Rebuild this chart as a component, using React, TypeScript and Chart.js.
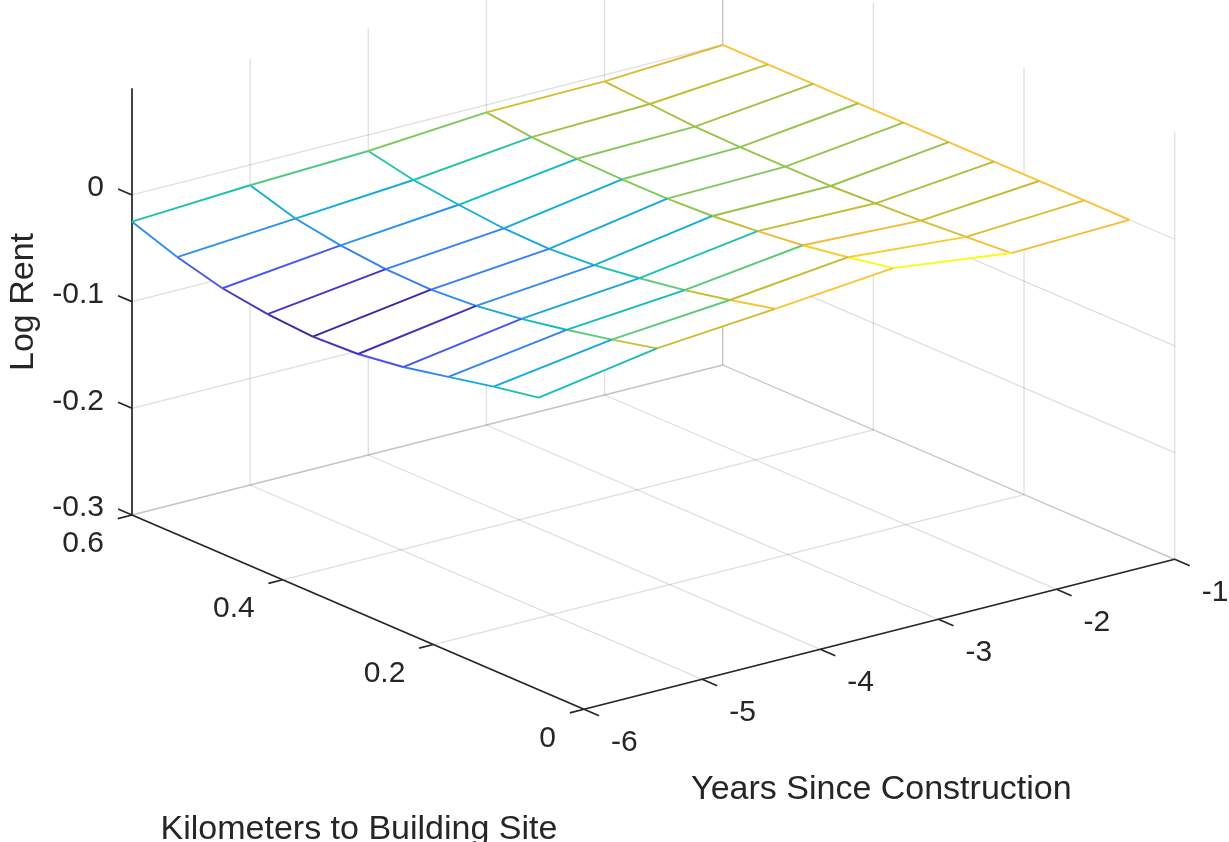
import { useEffect, useRef } from "react";
import { Chart, registerables, type ChartConfiguration, type Plugin } from "chart.js";

Chart.register(...registerables);

const W = 1229;
const H = 842;

// grid of the mesh
const years = [-6, -5, -4, -3, -2, -1];
const kmToSite = [0.06, 0.12, 0.18, 0.24, 0.3, 0.36, 0.42, 0.48, 0.54, 0.6];

// log rent per year, one value per kmToSite entry
const rentYearM6 = [-0.026, -0.034, -0.043, -0.052, -0.058, -0.06, -0.057, -0.051, -0.04, -0.025];
const rentYearM5 = [-0.008, -0.018, -0.027, -0.035, -0.041, -0.044, -0.043, -0.039, -0.032, -0.019];
const rentYearM4 = [0.001, -0.009, -0.018, -0.025, -0.031, -0.034, -0.033, -0.029, -0.024, -0.015];
const rentYearM3 = [0.011, 0.003, -0.004, -0.009, -0.013, -0.015, -0.015, -0.014, -0.012, -0.007];
const rentYearM2 = [-0.003, -0.006, -0.009, -0.011, -0.013, -0.013, -0.013, -0.012, -0.009, -0.006];
const rentYearM1 = [0, 0, 0, 0, 0, 0, 0, 0, 0, 0];
const logRent = [rentYearM6, rentYearM5, rentYearM4, rentYearM3, rentYearM2, rentYearM1];

// axes
const yearLim = [-6, -1];
const kmLim = [0, 0.6];
const zLim = [-0.3, 0.1];
const yearTicks = [-6, -5, -4, -3, -2, -1];
const yearTickLabels = ["-6", "-5", "-4", "-3", "-2", "-1"];
const kmTicks = [0, 0.2, 0.4, 0.6];
const kmTickLabels = ["0", "0.2", "0.4", "0.6"];
const zTicks = [-0.3, -0.2, -0.1, 0];
const zTickLabels = ["-0.3", "-0.2", "-0.1", "0"];

// where the plot box sits on screen: front-bottom corner plus one vector per axis
const ORIGIN = { x: 584, y: 709.3 };
const EDGE_YEAR = { x: 590.7, y: -150 };
const EDGE_KM = { x: -452, y: -194.3 };
const EDGE_Z = { x: 0, y: -426.7 };

type Pt = { x: number; y: number };

function project(yr: number, km: number, z: number): Pt {
  const p = (yr - yearLim[0]) / (yearLim[1] - yearLim[0]);
  const q = (km - kmLim[0]) / (kmLim[1] - kmLim[0]);
  const r = (z - zLim[0]) / (zLim[1] - zLim[0]);
  return {
    x: ORIGIN.x + p * EDGE_YEAR.x + q * EDGE_KM.x + r * EDGE_Z.x,
    y: ORIGIN.y + p * EDGE_YEAR.y + q * EDGE_KM.y + r * EDGE_Z.y,
  };
}

// matlab parula, sampled
const parulaStops: [number, number, number, number][] = [
  [0.0, 0.2422, 0.1504, 0.6603],
  [0.11, 0.281, 0.3228, 0.9579],
  [0.19, 0.244, 0.4358, 0.9988],
  [0.3, 0.154, 0.5902, 0.9218],
  [0.38, 0.069, 0.6727, 0.8634],
  [0.46, 0.059, 0.736, 0.754],
  [0.54, 0.2137, 0.786, 0.5887],
  [0.62, 0.4486, 0.8, 0.409],
  [0.7, 0.7184, 0.7436, 0.2005],
  [0.78, 0.93, 0.73, 0.21],
  [0.83, 0.9956, 0.7434, 0.2371],
  [0.87, 0.98, 0.78, 0.2],
  [0.92, 0.957, 0.85, 0.148],
  [0.96, 0.9575, 0.9064, 0.1171],
  [1.0, 0.9769, 0.9839, 0.0805],
];

function parula(t: number) {
  const v = Math.min(1, Math.max(0, t));
  let i = 0;
  while (i < parulaStops.length - 2 && v > parulaStops[i + 1][0]) i++;
  const a = parulaStops[i];
  const b = parulaStops[i + 1];
  const f = (v - a[0]) / (b[0] - a[0]);
  const c = [1, 2, 3].map((k) => Math.round(255 * (a[k] + (b[k] - a[k]) * f)));
  return `rgb(${c[0]},${c[1]},${c[2]})`;
}

const allZ = logRent.flat();
const cMin = Math.min(...allZ);
const cMax = Math.max(...allZ);
const colorOf = (z: number) => parula((z - cMin) / (cMax - cMin));

const GRID = "rgba(38,38,38,0.15)";
const AXIS = "#262626";
const FONT = '"Liberation Sans", Arial, Helvetica, sans-serif';

function lineSet(points: Pt[], color: string, width: number, extra: object = {}) {
  return {
    data: points,
    borderColor: color,
    borderWidth: width,
    pointRadius: 0,
    pointHoverRadius: 0,
    fill: false,
    tension: 0,
    ...extra,
  };
}

function buildDatasets() {
  const sets: any[] = [];
  const [y0, y1] = yearLim;
  const [k0, k1] = kmLim;
  const [z0, z1] = zLim;

  // grid lines on floor and the two back walls
  yearTicks.forEach((yr) => {
    sets.push(lineSet([project(yr, k0, z0), project(yr, k1, z0)], GRID, 1.3));
    sets.push(lineSet([project(yr, k1, z0), project(yr, k1, z1)], GRID, 1.3));
  });
  kmTicks.forEach((k) => {
    sets.push(lineSet([project(y0, k, z0), project(y1, k, z0)], GRID, 1.3));
    sets.push(lineSet([project(y1, k, z0), project(y1, k, z1)], GRID, 1.3));
  });
  zTicks.forEach((z) => {
    sets.push(lineSet([project(y0, k1, z), project(y1, k1, z)], GRID, 1.3));
    sets.push(lineSet([project(y1, k0, z), project(y1, k1, z)], GRID, 1.3));
  });

  // white faces hide what lies behind the mesh
  for (let i = 0; i < years.length - 1; i++) {
    for (let j = 0; j < kmToSite.length - 1; j++) {
      const quad = [
        project(years[i], kmToSite[j], logRent[i][j]),
        project(years[i + 1], kmToSite[j], logRent[i + 1][j]),
        project(years[i + 1], kmToSite[j + 1], logRent[i + 1][j + 1]),
        project(years[i], kmToSite[j + 1], logRent[i][j + 1]),
      ];
      quad.push(quad[0]);
      sets.push(lineSet(quad, "#ffffff", 1.2, { face: true, backgroundColor: "#ffffff" }));
    }
  }

  // axis lines and tick marks
  sets.push(lineSet([project(y0, k1, z0), project(y0, k1, z1)], AXIS, 1.7));
  sets.push(lineSet([project(y0, k1, z0), project(y0, k0, z0)], AXIS, 1.7));
  sets.push(lineSet([project(y0, k0, z0), project(y1, k0, z0)], AXIS, 1.7));
  zTicks.forEach((z) => {
    sets.push(lineSet([project(y0, k1, z), project(y0, k1 + 0.0185, z)], AXIS, 1.7));
  });
  kmTicks.forEach((k) => {
    sets.push(lineSet([project(y0, k, z0), project(y0 - 0.12, k, z0)], AXIS, 1.7));
  });
  yearTicks.forEach((yr) => {
    sets.push(lineSet([project(yr, k0, z0), project(yr, k0 - 0.02, z0)], AXIS, 1.7));
  });

  // mesh lines, each segment coloured from its first vertex
  years.forEach((yr, i) => {
    const pts = kmToSite.map((k, j) => project(yr, k, logRent[i][j]));
    const cols = kmToSite.map((_, j) => colorOf(logRent[i][j]));
    sets.push(
      lineSet(pts, cols[0], 1.9, {
        segment: { borderColor: (ctx: any) => cols[ctx.p0DataIndex] },
      })
    );
  });
  kmToSite.forEach((k, j) => {
    const pts = years.map((yr, i) => project(yr, k, logRent[i][j]));
    const cols = years.map((_, i) => colorOf(logRent[i][j]));
    sets.push(
      lineSet(pts, cols[0], 1.9, {
        segment: { borderColor: (ctx: any) => cols[ctx.p0DataIndex] },
      })
    );
  });

  // chart.js paints the first dataset on top, so hand them over back to front
  return sets.reverse();
}

// fills each face polygon right before its outline, so later lines sit on top
const faceFill: Plugin<"line"> = {
  id: "faceFill",
  beforeDatasetDraw(chart, args) {
    const ds: any = chart.data.datasets[args.index];
    if (!ds || !ds.face) return;
    const pts = args.meta.data as any[];
    if (!pts.length) return;
    const { ctx } = chart;
    ctx.save();
    ctx.beginPath();
    pts.forEach((p, i) => (i ? ctx.lineTo(p.x, p.y) : ctx.moveTo(p.x, p.y)));
    ctx.closePath();
    ctx.fillStyle = ds.backgroundColor;
    ctx.fill();
    ctx.restore();
  },
};

const axisText: Plugin<"line"> = {
  id: "axisText",
  afterDatasetsDraw(chart) {
    const { ctx } = chart;
    const sx = chart.scales.x;
    const sy = chart.scales.y;
    const at = (p: Pt) => ({ x: sx.getPixelForValue(p.x), y: sy.getPixelForValue(p.y) });
    const [y0, y1] = yearLim;
    const [k0, k1] = kmLim;
    const [z0] = zLim;

    ctx.save();
    ctx.fillStyle = AXIS;
    ctx.font = `30px ${FONT}`;
    ctx.textBaseline = "middle";

    ctx.textAlign = "right";
    zTicks.forEach((z, i) => {
      const a = at(project(y0, k1, z));
      ctx.fillText(zTickLabels[i], a.x - 28, a.y - 7);
    });
    kmTicks.forEach((k, i) => {
      const a = at(project(y0, k, z0));
      ctx.fillText(kmTickLabels[i], a.x - 28, a.y + 29);
    });
    ctx.textAlign = "left";
    yearTicks.forEach((yr, i) => {
      const a = at(project(yr, k0, z0));
      ctx.fillText(yearTickLabels[i], a.x + 27, a.y + 33);
    });

    ctx.font = `34px ${FONT}`;
    ctx.textAlign = "center";
    ctx.textBaseline = "alphabetic";
    const yMid = at(project((y0 + y1) / 2, k0, z0));
    ctx.fillText("Years Since Construction", yMid.x + 2, yMid.y + 165);
    const kMid = at(project(y0, (k0 + k1) / 2, z0));
    ctx.fillText("Kilometers to Building Site", kMid.x + 1, kMid.y + 227);

    const zMid = at(project(y0, k1, 0));
    ctx.translate(33, zMid.y + 107);
    ctx.rotate(-Math.PI / 2);
    ctx.fillText("Log Rent", 0, 0);
    ctx.restore();
  },
};

export default function App() {
  const canvasRef = useRef<HTMLCanvasElement | null>(null);

  useEffect(() => {
    const el = canvasRef.current;
    if (!el) return;

    const cfg: ChartConfiguration<"line"> = {
      type: "line",
      data: { datasets: buildDatasets() },
      options: {
        animation: false,
        responsive: false,
        events: [],
        layout: { padding: 0 },
        plugins: { legend: { display: false }, tooltip: { enabled: false } },
        scales: {
          x: { type: "linear", min: 0, max: W, display: false },
          y: { type: "linear", min: 0, max: H, reverse: true, display: false },
        },
      },
      plugins: [faceFill, axisText],
    };

    const chart = new Chart(el, cfg);
    return () => chart.destroy();
  }, []);

  return (
    <div style={{ position: "absolute", left: 0, top: 0, width: W, height: H, background: "#fff" }}>
      <canvas ref={canvasRef} width={W} height={H} style={{ display: "block" }} />
    </div>
  );
}
